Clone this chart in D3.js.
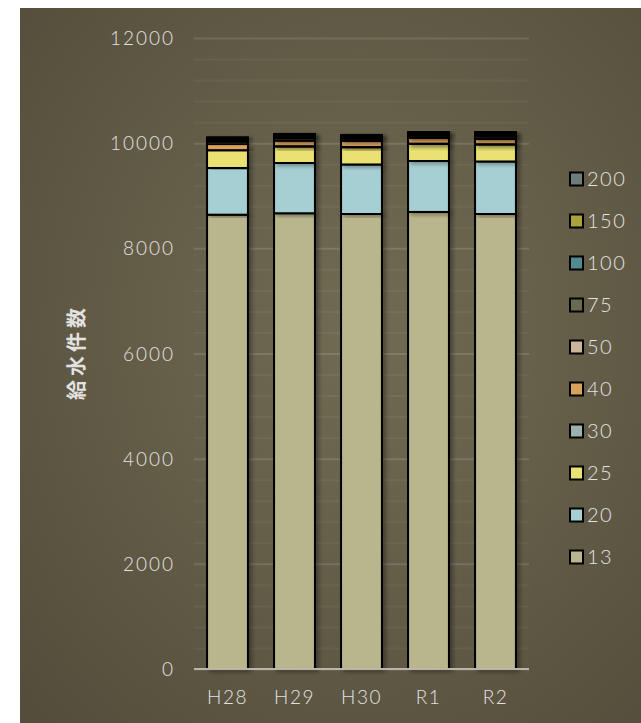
<!DOCTYPE html>
<html><head><meta charset="utf-8">
<script src="https://cdn.jsdelivr.net/npm/d3@7"></script>
<style>html,body{margin:0;padding:0;background:#fff;}svg{display:block;}</style>
</head><body>
<svg id="chart" width="641" height="723"></svg>
<script>
const categories = ["H28", "H29", "H30", "R1", "R2"];
const sizes = ["13", "20", "25", "30", "40", "50", "75", "100", "150", "200"];
const v13  = [8640, 8667, 8653, 8692, 8653];
const v20  = [888, 956, 942, 969, 999];
const v25  = [333, 314, 327, 324, 323];
const v30  = [6, 6, 6, 6, 6];
const v40  = [115, 105, 114, 112, 100];
const v50  = [45, 45, 40, 40, 45];
const v75  = [30, 30, 28, 28, 30];
const v100 = [25, 25, 22, 22, 25];
const v150 = [15, 15, 14, 14, 15];
const v200 = [15, 12, 10, 12, 16];
const yTicks = [0, 2000, 4000, 6000, 8000, 10000, 12000];
const colors = ["#b9b58d", "#a5cfd2", "#e9e172", "#9fb1ad", "#d9a15b", "#cab59b", "#6b6a4f", "#4f8b91", "#aaa23c", "#6f7d79"];

const seriesVals = [v13, v20, v25, v30, v40, v50, v75, v100, v150, v200];
const rows = categories.map((c, i) => {
  const r = {cat: c};
  sizes.forEach((s, k) => r[s] = seriesVals[k][i]);
  return r;
});

const svg = d3.select("#chart");
const defs = svg.append("defs");
const rg = defs.append("radialGradient").attr("id", "bg").attr("cx", "55%").attr("cy", "45%").attr("r", "75%");
rg.append("stop").attr("offset", "0%").attr("stop-color", "#726b53");
rg.append("stop").attr("offset", "100%").attr("stop-color", "#544d3b");
const f = defs.append("filter").attr("id", "sh").attr("x", "-20%").attr("y", "-5%").attr("width", "150%").attr("height", "110%");
f.append("feDropShadow").attr("dx", 3).attr("dy", 2).attr("stdDeviation", 2).attr("flood-color", "#000").attr("flood-opacity", 0.35);

svg.append("rect").attr("x", 20).attr("y", 8).attr("width", 621).attr("height", 715).attr("fill", "url(#bg)");

const x = d3.scaleBand().domain(categories).range([194, 529]).paddingInner(0.39).paddingOuter(0.195);
const y = d3.scaleLinear().domain([0, 12000]).range([669, 38]);

// gridlines
const minor = d3.range(0, 12001, 400);
svg.append("g").selectAll("line").data(minor).join("line")
  .attr("x1", 194).attr("x2", 529)
  .attr("y1", d => y(d) + 0.5).attr("y2", d => y(d) + 0.5)
  .attr("stroke", d => d % 2000 === 0 ? "rgba(255,255,255,0.12)" : "rgba(255,255,255,0.045)")
  .attr("stroke-width", 2);

// bars
const stack = d3.stack().keys(sizes)(rows);
const g = svg.append("g");
stack.forEach((layer, k) => {
  g.append("g").attr("filter", "url(#sh)").selectAll("rect").data(layer).join("rect")
    .attr("x", d => x(d.data.cat))
    .attr("y", d => y(d[1]))
    .attr("width", x.bandwidth())
    .attr("height", d => y(d[0]) - y(d[1]))
    .attr("fill", colors[k])
    .attr("stroke", "#000")
    .attr("stroke-width", 2);
});

// axis line
svg.append("line").attr("x1", 194).attr("x2", 529).attr("y1", y(0)).attr("y2", y(0))
  .attr("stroke", "#b9b5a8").attr("stroke-width", 2);

const font = "Lato, 'Open Sans', sans-serif";
// y tick labels
const yAxis = d3.axisLeft(y).tickValues(yTicks).tickSize(0).tickPadding(0).tickFormat(d3.format("d"));
const ya = svg.append("g").attr("transform", "translate(175,0)").call(yAxis);
ya.select(".domain").remove();
ya.selectAll("text").attr("fill", "#e2e2e2").attr("font-size", 19).attr("font-weight", 300)
  .attr("letter-spacing", "2px").attr("font-family", font).attr("dy", "0.35em");

// x labels
const xAxis = d3.axisBottom(x).tickSize(0).tickPadding(0);
const xa = svg.append("g").attr("transform", "translate(0,690)").call(xAxis);
xa.select(".domain").remove();
xa.selectAll("text").attr("fill", "#e2e2e2").attr("font-size", 19).attr("font-weight", 300)
  .attr("letter-spacing", "1.5px").attr("font-family", font);

// y title
svg.append("text").attr("transform", "translate(84,352) rotate(-90)")
  .attr("text-anchor", "middle").attr("fill", "#e2e2e2").attr("font-size", 20).attr("font-weight", "bold")
  .attr("letter-spacing", "4px")
  .attr("font-family", "'Noto Sans CJK JP', sans-serif").text("給水件数");

// legend
const legendKeys = sizes.slice().reverse();
const lg = svg.append("g").selectAll("g").data(legendKeys).join("g")
  .attr("transform", (d, i) => `translate(570,${179 + i * 42})`);
lg.append("rect").attr("x", 0).attr("y", -6.5).attr("width", 13).attr("height", 13)
  .attr("fill", d => colors[sizes.indexOf(d)]).attr("stroke", "#000").attr("stroke-width", 2);
lg.append("text").attr("x", 17).attr("dy", "0.36em").attr("fill", "#e2e2e2").attr("font-size", 20)
  .attr("font-weight", 300).attr("letter-spacing", "1.5px")
  .attr("font-family", font).text(d => d);
</script>
</body></html>
